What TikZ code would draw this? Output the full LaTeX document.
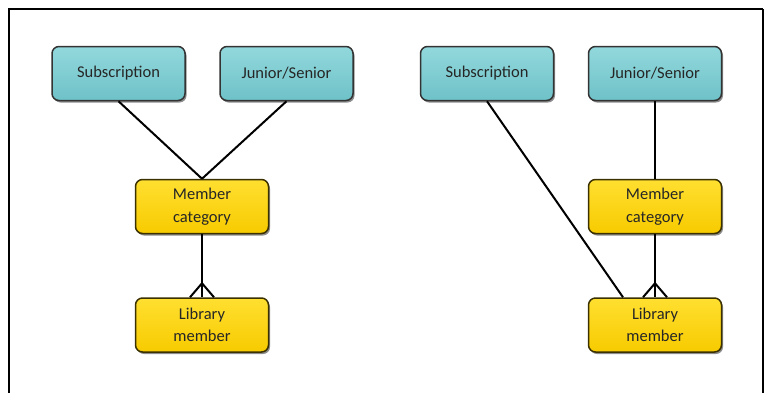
\documentclass[tikz,border=0pt]{standalone}
\usepackage{fontspec}
\setmainfont{Carlito}
\usetikzlibrary{shadows,calc}
\definecolor{tealtop}{HTML}{92D8DC}
\definecolor{tealbot}{HTML}{6EC2C8}
\definecolor{goldtop}{HTML}{FFDF30}
\definecolor{goldbot}{HTML}{F7CB00}
\definecolor{goldedge}{HTML}{3A3000}
\tikzset{
  x=1pt, y=-1pt,
  entity/.style={rounded corners=7pt, minimum width=133pt, minimum height=54pt,
    draw=black!80, line width=1.5pt, align=center, inner sep=2pt,
    font=\fontsize{16.5}{22.5}\selectfont, text=black!85,
    drop shadow={shadow xshift=1.5pt, shadow yshift=-2pt, opacity=0.45, fill=black}},
  tealbox/.style={entity, top color=tealtop, bottom color=tealbot},
  goldbox/.style={entity, top color=goldtop, bottom color=goldbot, draw=goldedge},
  rel/.style={line width=2pt, black},
}
\begin{document}
\begin{tikzpicture}
\useasboundingbox (0,0) rectangle (765,392);
% outer frame (bottom edge runs off the page)
\draw[line width=2.2pt] (9,400) -- (9,9) -- (763,9);
\draw[line width=1.2pt] (763,9) -- (763,400);

% left model: category as a separate entity
\node[tealbox] (subL) at (118.5,73.5) {Subscription};
\node[tealbox] (jsL)  at (286.5,73.5) {Junior/Senior};
\node[goldbox] (catL) at (202,206.5) {Member\\category};
\node[goldbox] (libL) at (202,325) {Library\\member};

% right model: subscription tied directly to the member
\node[tealbox] (subR) at (487,73.5) {Subscription};
\node[tealbox] (jsR)  at (655,73.5) {Junior/Senior};
\node[goldbox] (catR) at (655,206.5) {Member\\category};
\node[goldbox] (libR) at (655,325) {Library\\member};

\draw[rel] (subL.south) -- (catL.north);
\draw[rel] (jsL.south) -- (catL.north);
\draw[rel] (catL.south) -- (libL.north);
% crow's foot (many)
\coordinate (apL) at ($(libL.north)+(0,-14)$);
\draw[rel] ($(libL.north)+(-12,0)$) -- (apL) -- ($(libL.north)+(12,0)$);

\draw[rel] (subR.south) -- ($(libR.north)+(-32,0)$) coordinate (subEnd);
\draw[rel] (jsR.south) -- (catR.north);
\draw[rel] (catR.south) -- (libR.north);
\coordinate (apR) at ($(libR.north)+(0,-14)$);
\draw[rel] ($(libR.north)+(-12,0)$) -- (apR) -- ($(libR.north)+(12,0)$);
\end{tikzpicture}
\end{document}
